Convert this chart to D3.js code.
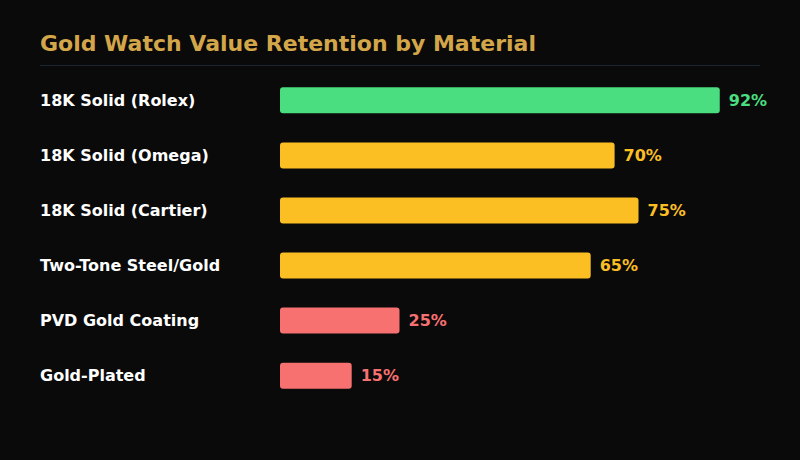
<!DOCTYPE html>
<html>
<head>
<meta charset="utf-8">
<script src="https://cdn.jsdelivr.net/npm/d3@7"></script>
<style>
  body { margin: 0; background: #0a0a0a; }
  svg { display: block; font-family: "DejaVu Sans", sans-serif; }
</style>
</head>
<body>
<svg id="chart" width="800" height="460"></svg>
<script>
// data
var materials = ["18K Solid (Rolex)", "18K Solid (Omega)", "18K Solid (Cartier)", "Two-Tone Steel/Gold", "PVD Gold Coating", "Gold-Plated"];
var retention = [92, 70, 75, 65, 25, 15];
var tiers = ["high", "mid", "mid", "mid", "low", "low"];

var tierColor = { high: "#4ade80", mid: "#fbbf24", low: "#f87171" };

var width = 800, height = 460;
var svg = d3.select("#chart");

svg.append("rect").attr("width", width).attr("height", height).attr("fill", "#0a0a0a");

// title
svg.append("text")
    .attr("x", 40).attr("y", 51)
    .attr("fill", "#d4a64a")
    .style("font-size", "22px").style("font-weight", "bold")
    .text("Gold Watch Value Retention by Material");

svg.append("line")
    .attr("x1", 40).attr("x2", 760)
    .attr("y1", 65.5).attr("y2", 65.5)
    .attr("stroke", "#1c2633").attr("stroke-width", 1);

var x = d3.scaleLinear().domain([0, 100]).range([280, 758]);
var y = d3.scaleBand().domain(materials).range([73, 403]).paddingInner(0.527).paddingOuter(0.26);

var rows = svg.append("g").selectAll("g")
    .data(materials)
    .enter().append("g");

rows.append("text")
    .attr("x", 40)
    .attr("y", d => y(d) + y.bandwidth() / 2)
    .attr("dy", "0.35em")
    .attr("fill", "#ffffff")
    .style("font-size", "16px").style("font-weight", "bold")
    .text(d => d);

rows.append("rect")
    .attr("x", x(0))
    .attr("y", d => y(d))
    .attr("width", (d, i) => x(retention[i]) - x(0))
    .attr("height", y.bandwidth())
    .attr("rx", 3)
    .attr("fill", (d, i) => tierColor[tiers[i]]);

rows.append("text")
    .attr("x", (d, i) => x(retention[i]) + 9)
    .attr("y", d => y(d) + y.bandwidth() / 2)
    .attr("dy", "0.35em")
    .attr("fill", (d, i) => tierColor[tiers[i]])
    .style("font-size", "16px").style("font-weight", "bold")
    .text((d, i) => retention[i] + "%");
</script>
</body>
</html>
